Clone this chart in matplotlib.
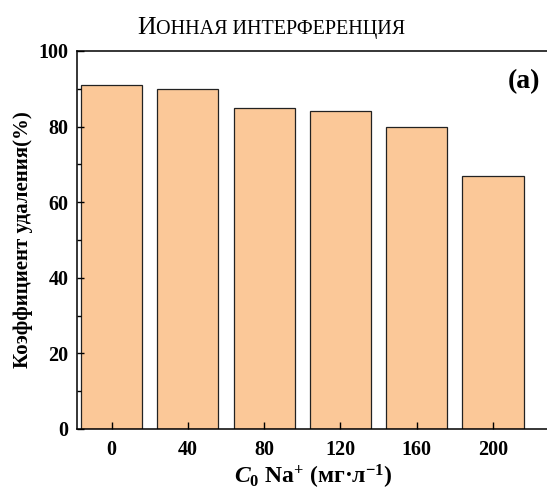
import matplotlib
matplotlib.use("Agg")
import matplotlib.pyplot as plt
from matplotlib.ticker import MultipleLocator

# data
concentrations = [0, 40, 80, 120, 160, 200]
removal = [91, 90, 85, 84, 80, 67]
tick_labels = ["0", "40", "80", "120", "160", "200"]

plt.rcParams["font.family"] = ["Liberation Serif", "DejaVu Serif"]
plt.rcParams["font.weight"] = "bold"
plt.rcParams["mathtext.fontset"] = "custom"
plt.rcParams["mathtext.rm"] = "Liberation Serif:bold"
plt.rcParams["mathtext.it"] = "Liberation Serif:italic:bold"
plt.rcParams["mathtext.bf"] = "Liberation Serif:bold"

W, H = 547, 493
fig = plt.figure(figsize=(W / 100, H / 100), dpi=100)
left, right, top, bottom = 77, 550, 51, 429
ax = fig.add_axes([left / W, 1 - bottom / H, (right - left) / W, (bottom - top) / H])

ax.bar(concentrations, removal, width=32, color="#FBC898",
       edgecolor="#222222", linewidth=0.9)

px_per_unit = (493 - 111.7) / 200
ax.set_xlim(-(111.7 - left) / px_per_unit, (right - 111.7) / px_per_unit)
ax.set_ylim(0, 100)
ax.set_xticks(concentrations)
ax.set_xticklabels(tick_labels)
ax.yaxis.set_major_locator(MultipleLocator(20))
ax.yaxis.set_minor_locator(MultipleLocator(10))
ax.tick_params(axis="both", direction="in", labelsize=14.5, width=1, length=5)
ax.tick_params(axis="x", pad=8)
ax.tick_params(axis="y", pad=6)
ax.tick_params(axis="y", which="minor", direction="in", width=1, length=3)
for lab in ax.get_xticklabels() + ax.get_yticklabels():
    lab.set_fontweight("bold")
for s in ax.spines.values():
    s.set_linewidth(1.1)

ax.set_ylabel("Коэффициент удаления(%)", fontsize=15, fontweight="bold", labelpad=4)
ax.set_xlabel(r"$C_{\mathit{0}}$ Na$^{+}$ (мг·л$^{-1}$)", fontsize=17, fontweight="bold", labelpad=2)

fig.text(540 / W, 1 - 82 / H, "(a)", fontsize=20, fontweight="bold",
         ha="right", va="center")

# small-caps style title
t1 = fig.text(137 / W, 1 - 34 / H, "И", fontsize=18.5, fontweight="normal", va="baseline")
fig.canvas.draw()
bb = t1.get_window_extent()
fig.text(bb.x1 / W, 1 - 34 / H, "ОННАЯ ИНТЕРФЕРЕНЦИЯ", fontsize=14.5, fontweight="normal",
         va="baseline")

fig.savefig("out.png", dpi=100)
